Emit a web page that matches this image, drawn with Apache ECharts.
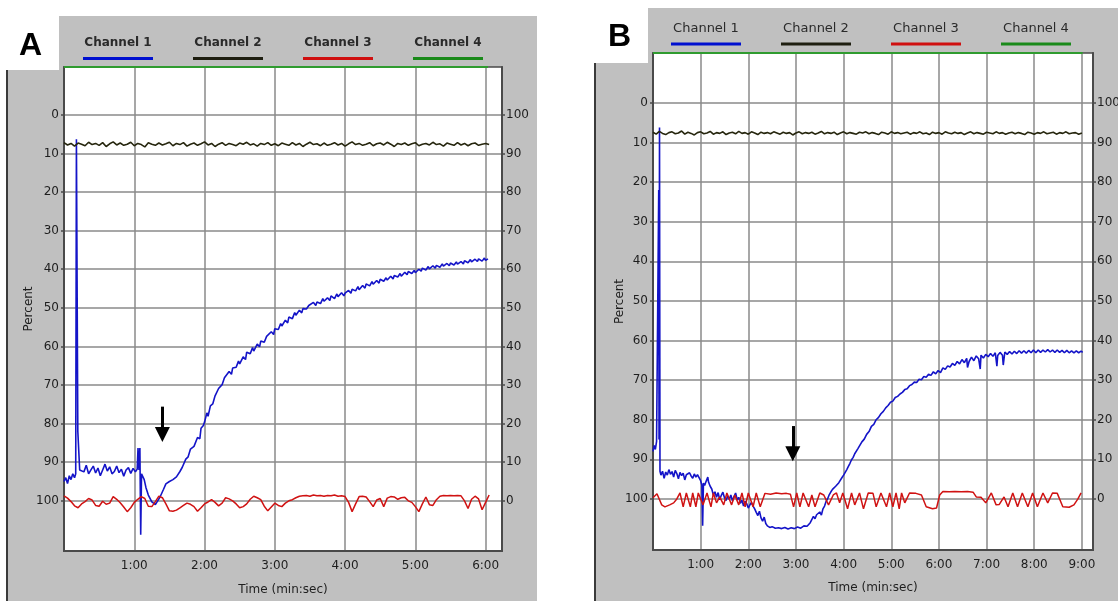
<!DOCTYPE html>
<html><head><meta charset="utf-8">
<script src="https://cdn.jsdelivr.net/npm/echarts@6/dist/echarts.min.js"></script>
<style>html,body{margin:0;padding:0;background:#fff}#c{width:1118px;height:601px}</style>
</head><body><div id="c"></div>
<script>
// ---------- shared ----------
const channelNames = ['Channel 1', 'Channel 2', 'Channel 3', 'Channel 4'];
const percentTicks = [0, 10, 20, 30, 40, 50, 60, 70, 80, 90, 100];
const panelLetters = ['A', 'B'];

// ---------- Panel A (time in seconds, value in percent) ----------
const rangeA = { tMax: 374, pMin: -12.4, pMax: 113 };
const ch1A = [
 [0,95],[1.5,94],[3,95.5],[4.5,93.5],[6,94.5],[7.5,93],[9,94],[10,93],[10.6,6.3],[11.2,6.5],[11.8,82],[12.6,82.5],[13.4,92],
 [15,91.5],[17,92.5],[19,90.8],[21,93],[23,92],[25,91],[27,92.8],[29,91.5],[31,93.5],[33,92],[35,90.5],[37,92.3],[39,91.2],
 [41,93],[43,92.4],[45,91],[47,92.7],[49,91.8],[51,93.6],[53,92],[55,91.4],[57,92.9],[59,91.6],[61,92.5],[62.5,91.8],
 [63.2,86.3],[64,92],[64.8,86.3],[65.5,108.8],[66.2,93],[67,92.5],
 [68.5,94.5],[70,96.6],[72,98.5],[75,100.3],[78,101],[80,100],[82,99],[85,97],[87,95.6],[90,95],[93,94.5],
 [96,93.8],[99,92.4],[101,91.3],[104,89.2],[106,88.6],[108,86.6],[111,85.9],[114,83.6],[116,83.9],[117,81.2],[119,80.5],
 [120,79.6],[122,77.2],[123,78.1],[125,75.4],[127,74.9],[129,72.8],[130,73.1],[132,70.9],[135,69.9],[137,68.1],[138,68.6],
 [141,66.5],[143,67.2],[144,65.6],[147,65.4],[149,63.8],[150,64.5],[153,62.7],[155,63.4],[156,61.5],[159,61.9],[161,60.3],
 [162,61.2],[165,59.4],[167,60.1],[168,58.6],[171,58.9],[173,57.4],[174,57.9],[177,56.2],[179,56.9],[180,55.4],[183,55.6],
 [185,54.1],[186,54.7],[189,53.2],[191,53.9],[192,52.4],[195,52.8],[197,51.2],[198,51.9],[201,50.6],[203,51.3],[204,50.2],
 [207,50.3],[209,49.4],[210,49.9],[213,48.6],[215,49.4],[216,48.5],[219,48.9],[221,47.6],[222,48.3],[225,47.4],[227,48.1],
 [228,46.9],[231,47.6],[233,46.4],[234,47.1],[237,46.1],[239,46.9],[240,46.2],[243,45.5],[245,46.2],[246,45.2],[249,45.6],
 [251,44.5],[252,45.3],[255,44.2],[257,44.9],[258,43.8],[261,44.3],[263,43.2],[264,43.9],[267,42.9],[269,43.6],[270,42.6],
 [273,43.1],[275,42.2],[276,42.8],[279,41.8],[281,42.5],[282,41.6],[285,42],[287,41.1],[288,41.8],[291,40.8],[293,41.4],
 [294,40.6],[297,41.1],[299,40.3],[300,40.9],[303,40],[305,40.5],[306,39.7],[309,40.2],[311,39.3],[312,39.9],[315,39.1],
 [317,39.7],[318,39],[321,39.5],[323,38.6],[324,39.2],[327,38.5],[329,39.1],[330,38.4],[333,38.9],[335,38.1],[336,38.7],
 [339,38],[341,38.6],[342,37.8],[345,38.3],[347,37.5],[348,38.1],[351,37.4],[353,38],[354,37.3],[357,37.9],[359,37.1],
 [360,37.7],[362,37.3]
];
const stepA = 3; // seconds between samples of channels 2 and 3
const ch2A = [
 7.2,7.8,7.4,8.1,7.3,7.6,8.0,7.1,7.7,7.4,7.9,7.2,8.2,7.5,7.0,7.8,7.3,7.9,7.6,7.1,
 8.0,7.4,7.7,8.3,7.2,7.6,7.9,7.3,7.8,7.5,7.1,8.0,7.4,7.7,7.2,8.1,7.6,7.3,7.9,7.5,
 7.0,7.8,7.4,8.2,7.6,7.2,7.9,7.4,7.7,8.0,7.3,7.6,7.1,7.8,7.5,8.1,7.4,7.7,7.2,7.9,
 7.5,8.0,7.3,7.6,7.9,7.2,7.8,7.4,8.2,7.6,7.1,7.7,7.5,8.0,7.3,7.9,7.6,7.2,7.8,7.4,
 8.1,7.5,7.0,7.7,7.4,7.9,7.6,7.2,8.0,7.5,7.3,7.8,7.1,7.6,8.2,7.4,7.7,7.3,7.9,7.5,
 7.2,8.0,7.6,7.4,7.8,7.1,7.7,7.5,8.1,7.3,7.6,7.9,7.2,7.8,7.4,8.0,7.5,7.3,7.9,7.6,
 7.4,7.7
];
const ch3A = [
 98.7,99.3,100.2,101.3,101.8,100.8,100.2,99.4,99.8,101.2,
 101.4,100.1,100.9,100.6,98.9,99.6,100.5,101.6,102.8,101.8,
 100.4,99.6,98.9,99.4,101.4,101.5,100.2,98.8,99.2,100.8,
 102.6,102.7,102.4,101.8,101.2,100.6,100.9,101.5,102.7,101.8,
 100.8,100.3,99.7,100.4,101.3,100.6,99.2,99.5,100.0,100.8,
 101.8,101.5,100.8,99.6,98.8,99.2,99.7,101.4,102.6,101.6,
 100.6,101.2,101.5,100.6,100.0,99.7,99.2,98.8,98.7,98.6,
 98.8,98.5,98.7,98.6,98.8,98.6,98.7,98.5,98.8,98.7,
 98.9,100.4,102.8,100.8,98.9,98.8,99.0,100.2,101.5,99.8,
 99.4,101.5,99.3,98.9,99.0,99.6,99.2,99.1,100.0,100.4,
 101.5,102.8,100.8,99.0,101.0,101.2,99.7,98.8,98.6,98.7,
 98.6,98.7,98.6,98.7,100.0,102.0,99.6,98.8,99.5,102.3,
 100.4,98.5
];
const ch4A = [[0, -12.4], [362, -12.4]];
const arrowA = [84, 75.6, 82.8]; // [time, from, to]

// ---------- Panel B ----------
const rangeB = { tMax: 554, pMin: -12.6, pMax: 112.9 };
const ch1B = [
 [0,88],[1.5,86.5],[3,87.5],[4.5,85.5],[6,86],[6.8,85],[7.2,22],[7.6,85],[8.2,6.2],[8.8,93],
 [10,94],[12,93],[14,94.8],[16,93.2],[18,94],[20,92.6],[22,93.8],[24,93.1],[26,94.5],[28,92.8],[30,93.6],[32,94.9],
 [34,93.3],[36,94.1],[38,93.5],[40,95.2],[42,93.9],[44,94.4],[46,93.4],[48,94.2],[50,94.8],[52,93.7],[54,94.5],[56,93.9],
 [58,94.6],[60,95.4],[61.5,96.5],[62.5,106.8],[63.5,96],[65,96.6],[67,95.5],[69,94.5],[70,95.8],[72,96.8],[74,97.5],
 [76,99],[78,98.2],[80,99.6],[82,98.4],[84,100.2],[86,99.1],[88,98.3],[90,99.7],[92,100.4],[94,99.3],[96,100.1],[98,99],
 [100,100.5],[102,99.4],[104,98.5],[106,100.2],[108,99.6],[110,101.1],[112,100.3],[114,101.8],[116,100.6],[118,101.2],
 [120,102.3],[122,101.5],[124,100.9],[126,101.8],[128,102.5],[130,103.4],[132,104.2],[134,103.1],[136,104.8],[138,105.6],
 [140,104.6],[142,106.2],[144,106.8],[147,107.2],[150,107],[154,107.4],[158,107.3],[162,107.5],[166,107.2],[170,107.6],
 [174,107.3],[178,107.5],[182,107.1],[186,107.4],[190,106.8],[194,106.9],[198,106],[200,105.5],[202,104.4],[204,105],
 [206,104],[208,103.6],[210,103.3],[212,104.1],[214,102.5],[216,101.8],[218,100.6],[220,99.9],[222,98.9],[224,98.2],
 [226,97.6],[228,97.2],[230,96.8],[232,96.5],[234,95.9],[236,95.4],[238,94.6],[240,94],[242,93.3],[244,92.6],[246,91.8],
 [248,91],[250,90.1],[252,89.5],[254,88.6],[256,88.2],[258,87.3],[260,86.8],[263,85.6],[266,84.9],[269,83.7],[272,83],
 [275,81.7],[278,81.2],[281,80],[284,79.4],[287,78.5],[290,77.9],[293,77],[296,76.4],[299,75.6],[302,75.3],[305,74.4],
 [308,74.1],[311,73.5],[314,73.1],[317,72.4],[320,72.2],[323,71.4],[326,71.1],[329,70.5],[332,70.6],[335,69.8],[338,69.9],
 [341,69.1],[344,69.3],[347,68.5],[350,68.8],[353,67.9],[356,68.4],[359,67.6],[362,68.1],[365,66.9],[368,67.3],[371,66.4],
 [374,66.7],[377,65.8],[380,66.3],[383,65.3],[386,65.9],[389,64.8],[392,65.6],[395,64.5],[396,66.8],[398,65.3],[401,64.2],
 [404,65.1],[407,63.9],[410,64.6],[412,67.2],[413,63.7],[416,64.4],[419,63.5],[422,64.1],[425,63.3],[428,64],[431,63.1],
 [433,66.5],[434,63.8],[437,63],[440,63.7],[441,66.2],[443,62.9],[446,63.5],[449,62.8],[452,63.4],[455,62.7],[458,63.3],
 [461,62.6],[464,63.2],[467,62.6],[470,63.2],[473,62.5],[476,63.1],[479,62.4],[482,63.1],[485,62.4],[488,63],[491,62.4],
 [494,62.9],[497,62.3],[500,62.9],[503,62.4],[506,63],[509,62.4],[512,63],[515,62.5],[518,63.1],[521,62.5],[524,63.1],
 [527,62.6],[530,63.1],[533,62.6],[536,63.1],[539,62.7],[541,63]
];
const stepB = 4; // seconds between samples of channel 2
const ch2B = [
 7.4,7.9,7.2,7.7,8.0,7.5,7.3,7.8,7.6,7.1,7.9,7.4,7.7,8.1,7.5,7.3,7.8,7.6,7.2,7.9,
 7.5,7.7,7.3,8.0,7.6,7.4,7.8,7.2,7.7,7.5,7.9,7.3,7.6,8.0,7.4,7.7,7.5,7.8,7.3,7.6,
 7.9,7.4,7.7,7.5,8.1,7.6,7.3,7.8,7.5,7.7,7.4,7.9,7.6,7.2,7.8,7.5,7.7,7.4,8.0,7.6,
 7.3,7.8,7.5,7.7,7.9,7.4,7.6,7.3,7.8,7.5,7.7,8.0,7.4,7.6,7.9,7.3,7.7,7.5,7.8,7.6,
 7.4,7.9,7.5,7.7,7.3,7.8,7.6,8.0,7.4,7.7,7.5,7.9,7.3,7.6,7.8,7.4,7.7,7.5,8.0,7.6,
 7.3,7.8,7.5,7.7,7.9,7.4,7.6,7.8,7.3,7.7,7.5,7.9,7.6,7.4,7.8,7.5,7.7,8.0,7.4,7.6,
 7.9,7.5,7.7,7.3,7.8,7.6,7.4,7.9,7.5,7.7,7.3,7.8,7.6,7.5,7.9,7.6
];
const ch3B = [
 [0,99.7],[5,98.7],[11,101.5],[15,102],[21,101.5],[26,101],[30,100],[34,98.5],[38,102],[42,98.5],[47,102],[50,98.5],
 [54,102],[57,98.5],[63,101.5],[68,98.5],[73,102],[76,98.5],[80,101],[84,99.5],[89,101.5],[93,98.5],[99,101.5],[103,99],
 [108,101.5],[112,98.5],[116,102],[120,98.5],[126,102],[130,98.5],[135,102],[141,98.6],[148,98.8],[155,98.5],[162,98.7],
 [168,98.6],[173,98.8],[177,102],[181,98.5],[185,102],[189,98.5],[196,102],[200,99],[204,102],[210,98.5],[215,99],
 [221,101.5],[227,99],[231,98.5],[235,101],[239,98.5],[245,102.5],[250,98.5],[254,101.5],[260,98.5],[265,102.5],[271,98.5],
 [277,98.6],[281,102],[287,98.5],[294,102],[298,98.5],[302,102],[306,98.5],[310,102.5],[313,98.5],[317,101],[323,98.5],
 [331,98.6],[338,99],[344,102],[352,102.5],[357,102.3],[361,99],[365,98.1],[373,98.2],[380,98.1],[388,98.2],[396,98.1],
 [403,98.3],[407,99.5],[413,99.6],[419,101],[426,98.5],[432,101.5],[436,101.4],[442,99.5],[447,102],[453,98.5],[459,102],
 [465,98.5],[472,102],[478,98.5],[484,102],[491,98.5],[497,101],[503,98.5],[509,98.6],[516,102],[524,102.1],[530,101.5],
 [535,100],[539,98.5]
];
const ch4B = [[0, -12.6], [541, -12.6]];
const arrowB = [176, 81.6, 88.6];

// ---------- styling helpers ----------
const FONT = 'DejaVu Sans, Verdana, sans-serif';
const lineColors = ['#1414c8', '#26260e', '#d01212', '#2f9b2f'];
const legendColors = ['#0010d0', '#1e1e10', '#d01010', '#1a8a1a'];
const GRID_LINE = '#8a8a8a';
const AXIS_LINE = '#4a4a4a';
const TEXT = '#1e1e1e';

function fmtTime(v) {
  if (v <= 0 || v % 60 !== 0) return '';
  return (v / 60) + ':00';
}

function xAxisFor(gi, r, nameGap) {
  return {
    gridIndex: gi, type: 'value', min: 0, max: r.tMax, interval: 60,
    axisLine: { show: true, onZero: false, lineStyle: { color: AXIS_LINE, width: 2 } },
    axisTick: { show: false },
    splitLine: { show: true, lineStyle: { color: GRID_LINE, width: 1.5 } },
    axisLabel: { formatter: fmtTime, color: TEXT, fontSize: 12, fontFamily: FONT, margin: 9, showMinLabel: false, showMaxLabel: false },
    name: 'Time (min:sec)', nameLocation: 'middle', nameGap: nameGap, nameMoveOverlap: false,
    nameTextStyle: { color: TEXT, fontSize: 12, fontFamily: FONT }
  };
}
function leftAxisFor(gi, r, nameGap) {
  return {
    gridIndex: gi, type: 'value', inverse: true, min: r.pMin, max: r.pMax, position: 'left',
    axisLine: { show: true, onZero: false, lineStyle: { color: AXIS_LINE, width: 2 } },
    axisTick: { show: true, length: 3, customValues: percentTicks, lineStyle: { color: AXIS_LINE, width: 1.5 } },
    axisLabel: { customValues: percentTicks, color: TEXT, fontSize: 12, fontFamily: FONT, margin: 5 },
    splitLine: { show: true, lineStyle: { color: GRID_LINE, width: 1.5 } },
    name: 'Percent', nameLocation: 'middle', nameGap: nameGap, nameRotate: 90, nameMoveOverlap: false,
    nameTextStyle: { color: TEXT, fontSize: 12, fontFamily: FONT }
  };
}
function rightAxisFor(gi, r) {
  return {
    gridIndex: gi, type: 'value', min: 100 - r.pMax, max: 100 - r.pMin, position: 'right',
    axisLine: { show: true, onZero: false, lineStyle: { color: AXIS_LINE, width: 2 } },
    axisTick: { show: true, length: 3, customValues: percentTicks, lineStyle: { color: AXIS_LINE, width: 1.5 } },
    axisLabel: { customValues: percentTicks, color: TEXT, fontSize: 12, fontFamily: FONT, margin: 4 },
    splitLine: { show: false }
  };
}
function richFor(bold, size) {
  const rich = { t: { fontSize: size, fontWeight: bold ? 'bold' : 'normal', fontFamily: FONT, color: '#2a2a2a', width: 70, align: 'center', lineHeight: 23 } };
  legendColors.forEach((c, i) => { rich['l' + (i + 1)] = { width: 70, height: 3, lineHeight: 8, fontSize: 1, backgroundColor: c }; });
  return rich;
}
function legendFor(left, top, bold, size) {
  return {
    data: channelNames, left: left, top: top, orient: 'horizontal', padding: 0,
    itemWidth: 0, itemHeight: 0, itemGap: 35, selectedMode: false, icon: 'rect',
    formatter: name => '{t|' + name + '}\n{l' + name.slice(-1) + '| }',
    textStyle: { rich: richFor(bold, size) }
  };
}
function arrowMark(a) {
  return {
    silent: true, symbol: ['none', 'triangle'], symbolSize: 15, animation: false,
    label: { show: false },
    lineStyle: { color: '#000', width: 3, type: 'solid' },
    data: [[{ coord: [a[0], a[1]] }, { coord: [a[0], a[2]] }]]
  };
}
function seriesFor(xi, yi, c1, c2, step2, c3, step3, c4, arrow) {
  const base = { type: 'line', xAxisIndex: xi, yAxisIndex: yi, showSymbol: false, symbol: 'none', animation: false };
  const s3data = step3 ? c3.map((v, i) => [i * step3, v]) : c3;
  return [
    Object.assign({}, base, { name: channelNames[0], data: c1, z: 3, lineStyle: { color: lineColors[0], width: 1.6 }, itemStyle: { color: lineColors[0] }, markLine: arrowMark(arrow) }),
    Object.assign({}, base, { name: channelNames[1], data: c2.map((v, i) => [i * step2, v]), z: 4, lineStyle: { color: lineColors[1], width: 1.6 }, itemStyle: { color: lineColors[1] } }),
    Object.assign({}, base, { name: channelNames[2], data: s3data, z: 5, lineStyle: { color: lineColors[2], width: 1.5 }, itemStyle: { color: lineColors[2] } }),
    Object.assign({}, base, { name: channelNames[3], data: c4, z: 6, clip: false, lineStyle: { color: lineColors[3], width: 2 }, itemStyle: { color: lineColors[3] } })
  ];
}

const chart = echarts.init(document.getElementById('c'), null, { renderer: 'canvas' });
chart.setOption({
  animation: false,
  backgroundColor: '#ffffff',
  graphic: [
    { type: 'polygon', z: -10, silent: true, shape: { points: [[59,16],[537,16],[537,601],[6,601],[6,70],[59,70]] }, style: { fill: '#c0c0c0' } },
    { type: 'line', z: -9, silent: true, shape: { x1: 7, y1: 70, x2: 7, y2: 601 }, style: { stroke: '#3a3a3a', lineWidth: 2 } },
    { type: 'polygon', z: -10, silent: true, shape: { points: [[648,8],[1118,8],[1118,601],[594,601],[594,63],[648,63]] }, style: { fill: '#c0c0c0' } },
    { type: 'line', z: -9, silent: true, shape: { x1: 595, y1: 63, x2: 595, y2: 601 }, style: { stroke: '#3a3a3a', lineWidth: 2 } },
    { type: 'text', z: 10, left: 31 - 12, top: 48 - 18, style: { text: panelLetters[0], font: 'bold 32px "Liberation Sans", Arial, sans-serif', fill: '#000' } },
    { type: 'text', z: 10, left: 620 - 12, top: 39 - 18, style: { text: panelLetters[1], font: 'bold 32px "Liberation Sans", Arial, sans-serif', fill: '#000' } }
  ],
  legend: [legendFor(78, 37, true, 12), legendFor(666, 22, false, 13)],
  grid: [
    { left: 64, top: 67, width: 438, height: 484, show: true, backgroundColor: '#ffffff', borderColor: AXIS_LINE, borderWidth: 1.5, containLabel: false, outerBoundsMode: 'none' },
    { left: 653, top: 53, width: 440, height: 497, show: true, backgroundColor: '#ffffff', borderColor: AXIS_LINE, borderWidth: 1.5, containLabel: false, outerBoundsMode: 'none' }
  ],
  xAxis: [xAxisFor(0, rangeA, 33), xAxisFor(1, rangeB, 32)],
  yAxis: [leftAxisFor(0, rangeA, 29), rightAxisFor(0, rangeA), leftAxisFor(1, rangeB, 27), rightAxisFor(1, rangeB)],
  series: [].concat(
    seriesFor(0, 0, ch1A, ch2A, stepA, ch3A, stepA, ch4A, arrowA),
    seriesFor(1, 2, ch1B, ch2B, stepB, ch3B, 0, ch4B, arrowB)
  )
});
</script></body></html>
